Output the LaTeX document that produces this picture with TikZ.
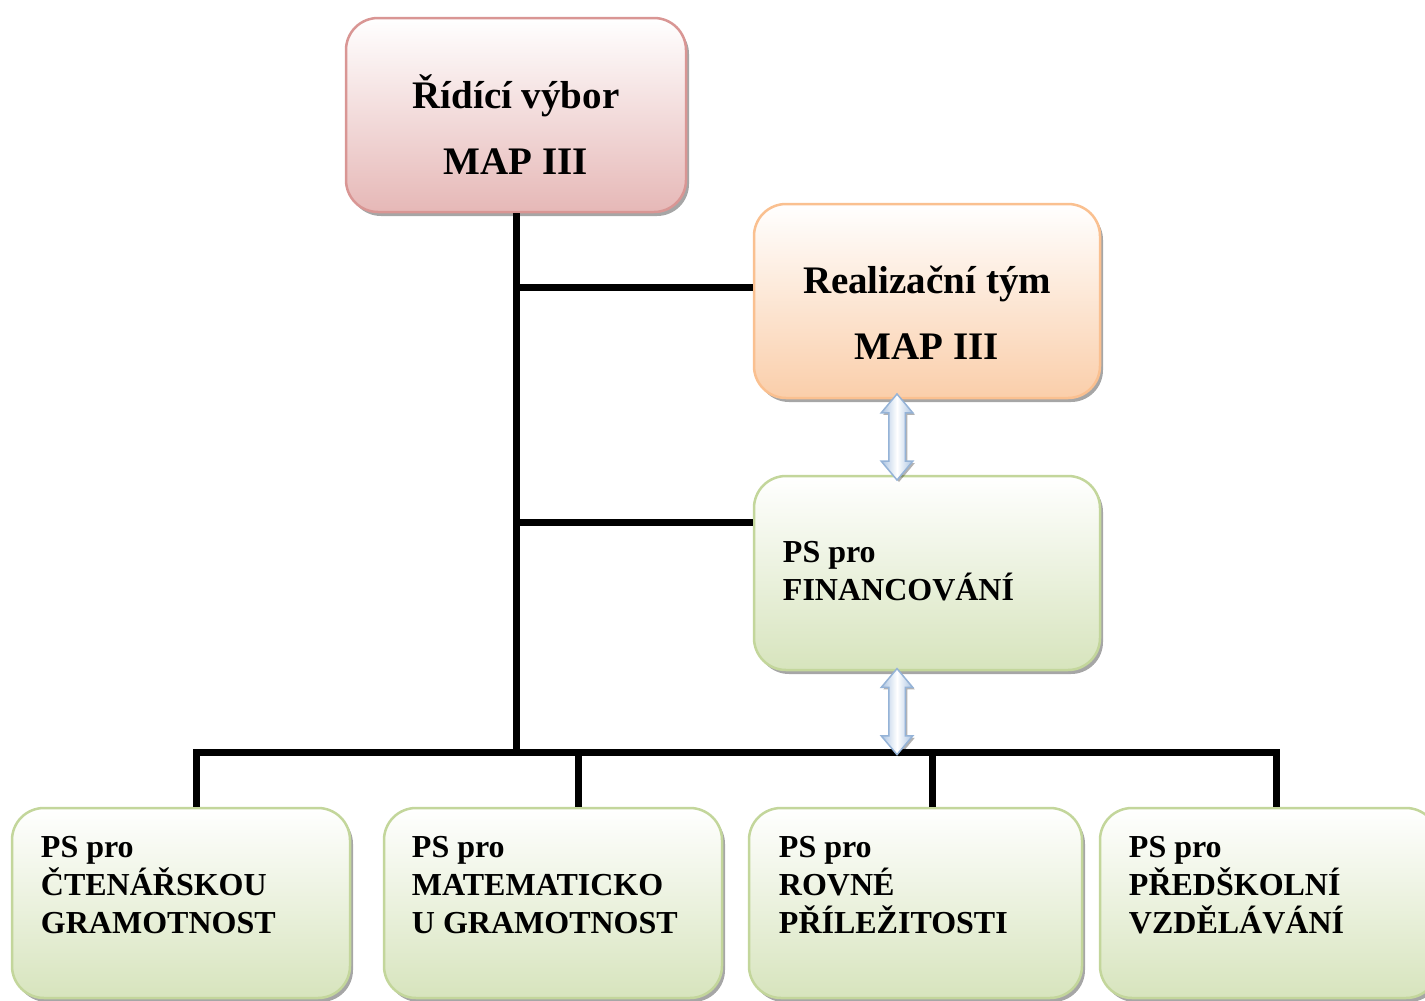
\documentclass[tikz,border=0pt]{standalone}
\usepackage{fontspec}
\setmainfont{Liberation Serif}
\usetikzlibrary{positioning,shapes.arrows,shadows,calc}
\definecolor{mypinkline}{RGB}{217,150,148}
\definecolor{mypink}{RGB}{230,184,183}
\definecolor{myorangeline}{RGB}{250,192,144}
\definecolor{myorange}{RGB}{250,206,170}
\definecolor{mygreenline}{RGB}{195,214,155}
\definecolor{mygreen}{RGB}{215,228,189}
\definecolor{myblueline}{RGB}{149,179,215}
\definecolor{myblue}{RGB}{170,195,225}

\begin{document}
\begin{tikzpicture}[x=1pt,y=-1pt,
  box/.style={rounded corners=32pt,line width=2.5pt,inner sep=0pt,
    drop shadow={shadow xshift=3pt,shadow yshift=-4pt,opacity=0.35,fill=black}},
  pinkbox/.style={box,draw=mypinkline,top color=white,bottom color=mypink,
    minimum width=340pt,minimum height=194pt},
  orangebox/.style={box,draw=myorangeline,top color=white,bottom color=myorange,
    minimum width=346pt,minimum height=194pt},
  greenbox/.style={box,draw=mygreenline,top color=white,bottom color=mygreen,
    minimum width=338pt,minimum height=190pt},
  headtext/.style={font=\bfseries\fontsize{39}{66}\selectfont,align=center,inner sep=0pt},
  pstext/.style={font=\bfseries\fontsize{32}{38}\selectfont,align=left,inner sep=0pt},
  conn/.style={line width=7pt},
  dblarrow/.style={double arrow,shape border rotate=90,draw=myblueline,line width=1.5pt,
    left color=myblue,right color=myblue,middle color=white,
    minimum height=86pt,minimum width=30pt,inner sep=7.5pt,
    double arrow head extend=7.5pt,double arrow tip angle=80,
    drop shadow={shadow xshift=2pt,shadow yshift=-2pt,opacity=0.3,fill=black}}
]
\useasboundingbox (0,0) rectangle (1425,1001);

% the steering committee and the teams
\node[pinkbox] (rid) at (516,115) {};
\node[headtext] (ridtext) at ($(rid.center)+(0,10)$) {Řídící výbor\\MAP III};
\node[orangebox] (real) at (927,301) {};
\node[headtext] (realtext) at ($(real.center)+(0,12)$) {Realizační tým\\MAP III};
\node[greenbox,minimum width=346pt,minimum height=194pt,below=75.5pt of real] (fin) {};
\node[pstext,anchor=west] (fintext) at ($(fin.west)+(30,-2)$) {PS pro\\FINANCOVÁNÍ};

% the working groups
\node[greenbox] (b1) at (181,903) {};
\node[greenbox,right=31.5pt of b1] (b2) {};
\node[greenbox,minimum width=333pt,right=24.5pt of b2] (b3) {};
\node[greenbox,right=15.5pt of b3] (b4) {};
\node[pstext,anchor=north west] (b1text) at ($(b1.north west)+(30,29)$) {PS pro\\ČTENÁŘSKOU\\GRAMOTNOST};
\node[pstext,anchor=north west] (b2text) at ($(b2.north west)+(29,29)$) {PS pro\\MATEMATICKO\\U GRAMOTNOST};
\node[pstext,anchor=north west] (b3text) at ($(b3.north west)+(31,29)$) {PS pro\\ROVNÉ\\PŘÍLEŽITOSTI};
\node[pstext,anchor=north west] (b4text) at ($(b4.north west)+(30,29)$) {PS pro\\PŘEDŠKOLNÍ\\VZDĚLÁVÁNÍ};

% the lines
\coordinate (j1) at ($(rid.south)+(0,74)$);
\coordinate (j2) at ($(rid.south)+(0,309)$);
\coordinate (d1) at (196,752);
\coordinate (d2) at (578,752);
\coordinate (d3) at (932,752);
\coordinate (d4) at (1276,752);
\draw[conn] (rid.south) -- (rid.south |- d1);
\draw[conn] (j1) -- (j1 -| real.west);
\draw[conn] (j2) -- (j2 -| fin.west);
\draw[conn] (d1 |- b1.north) -- (d1) -- (d4) -- (d4 |- b4.north);
\draw[conn] (d2) -- (d2 |- b2.north);
\draw[conn] (d3) -- (d3 |- b3.north);

% the arrows
\node[dblarrow] (a1) at ($(real.south)!0.5!(fin.north)+(-30,0)$) {};
\node[dblarrow] (a2) at ($(fin.south)!0.5!(fin.south |- d1)+(-30,0)$) {};
\end{tikzpicture}
\end{document}
